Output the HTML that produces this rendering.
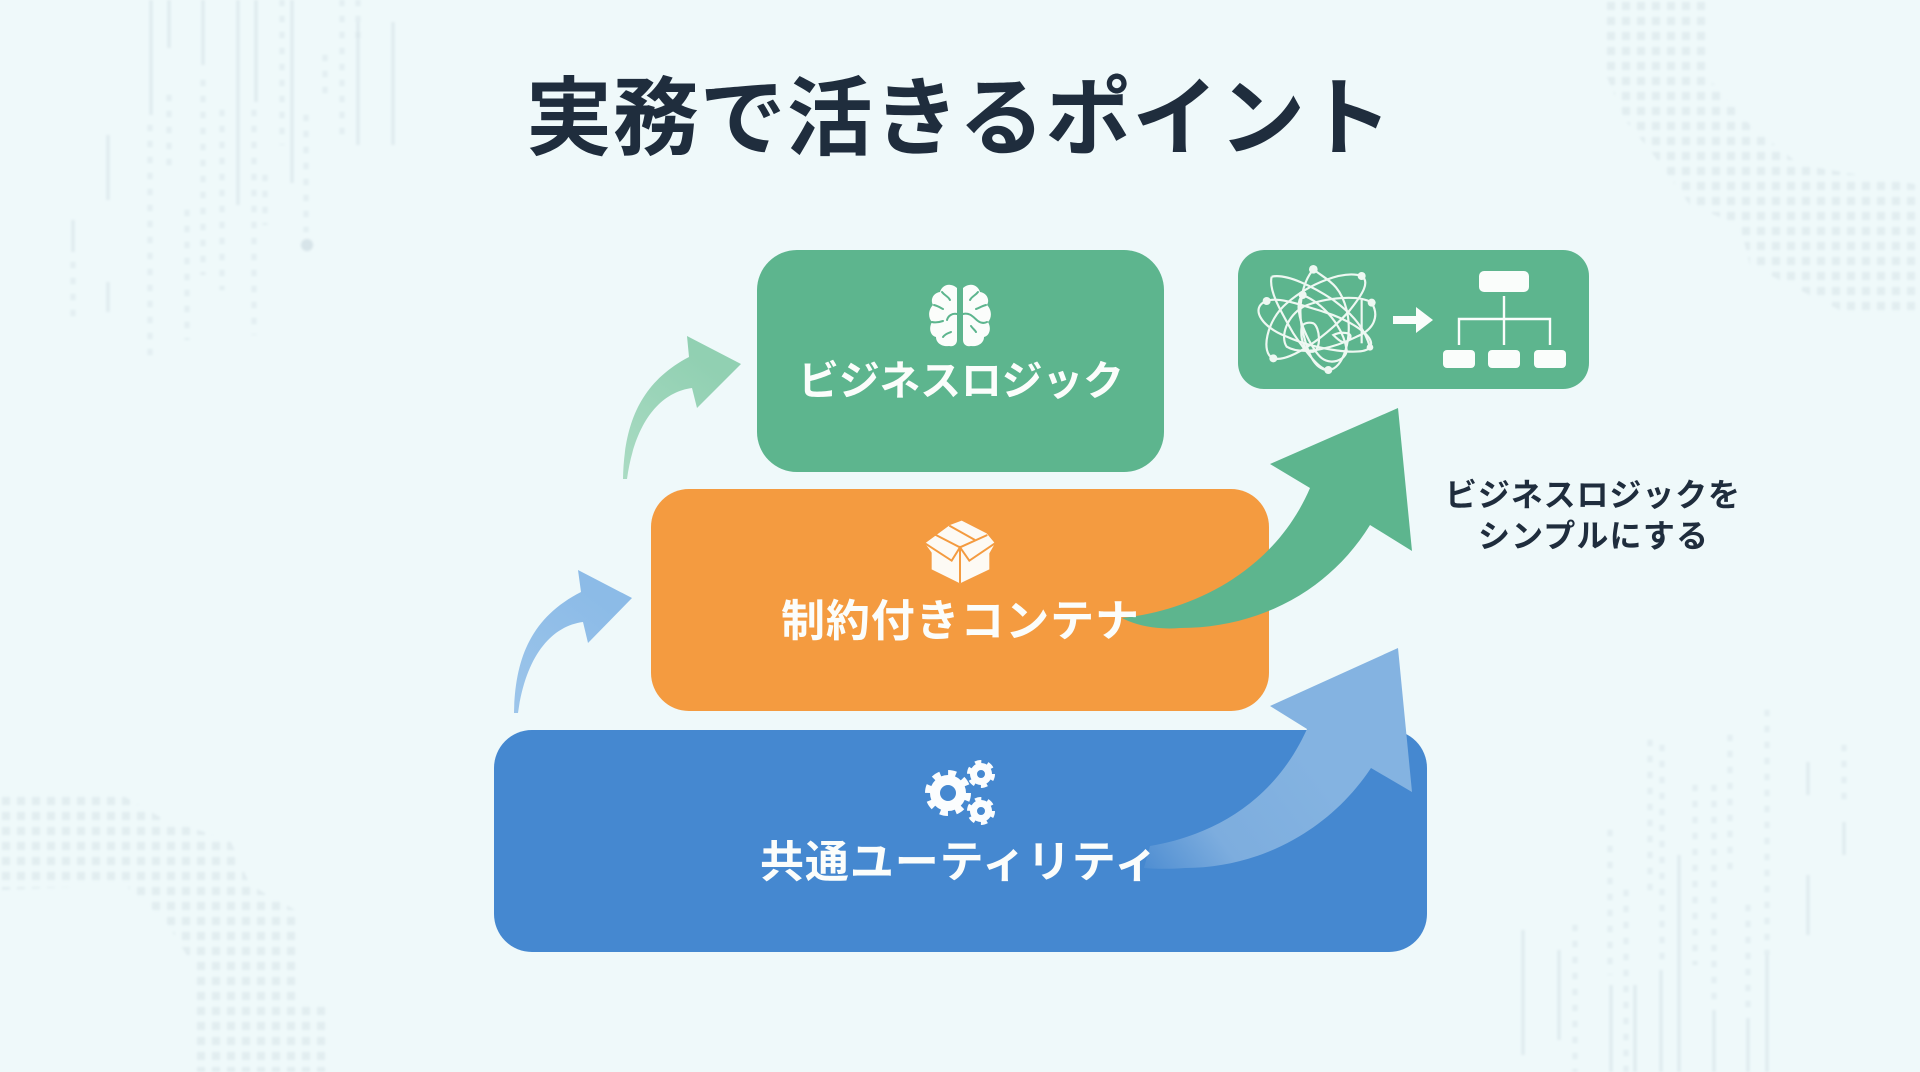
<!DOCTYPE html>
<html lang="ja">
<head>
<meta charset="utf-8">
<title>実務で活きるポイント</title>
<style>
html,body{margin:0;padding:0;width:1920px;height:1072px;overflow:hidden;background:#eff9fa}
svg{display:block}
text{font-family:"Liberation Sans","Noto Sans CJK JP",sans-serif}
</style>
</head>
<body>
<svg xmlns="http://www.w3.org/2000/svg" width="1920" height="1072" viewBox="0 0 1920 1072">
<defs>
<filter id="blur" x="-5%" y="-5%" width="110%" height="110%"><feGaussianBlur stdDeviation="1.2"/></filter>
<pattern id="dots" width="15" height="15" patternUnits="userSpaceOnUse"><rect x="2" y="2" width="8" height="8" fill="#9db2bd"/></pattern>
<clipPath id="cBL"><polygon points="0,797 125,797 165,820 230,840 250,885 295,910 295,1000 325,1000 325,1072 190,1072 190,960 165,920 125,885 0,890"/></clipPath>
<clipPath id="cTR"><polygon points="1600,0 1710,0 1710,80 1750,125 1800,165 1920,185 1920,310 1840,310 1750,265 1740,225 1690,205 1650,150 1625,120 1600,60"/></clipPath>
<linearGradient id="gBlueBig" gradientUnits="userSpaceOnUse" x1="1144" y1="868" x2="1300" y2="750">
<stop offset="0" stop-color="#4f8ed2"/><stop offset=".4" stop-color="#7dadde"/><stop offset="1" stop-color="#84b3e1"/>
</linearGradient>
<linearGradient id="gBlueSm" gradientUnits="userSpaceOnUse" x1="516" y1="713" x2="600" y2="600">
<stop offset="0" stop-color="#9cc5ea"/><stop offset="1" stop-color="#8cbbe7"/>
</linearGradient>
<linearGradient id="gGreenSm" gradientUnits="userSpaceOnUse" x1="625" y1="479" x2="709" y2="366">
<stop offset="0" stop-color="#aadbc3"/><stop offset="1" stop-color="#91d0b2"/>
</linearGradient>
</defs>

<rect width="1920" height="1072" fill="#eff9fa"/>

<!-- background texture -->
<g filter="url(#blur)" opacity=".4">
<rect width="1920" height="1072" fill="url(#dots)" clip-path="url(#cBL)" opacity=".4"/>
<rect width="1920" height="1072" fill="url(#dots)" clip-path="url(#cTR)" opacity=".4"/>
<g stroke="#b9c9d2" stroke-width="3" fill="none" opacity=".75">
<path d="M151 0V115M169 0V48M203 0V65M238 0V205M256 0V102M292 0V183M358 22V145M393 22V145M108 135V200M73 220V252M108 282V312"/>
<path d="M1523 930V1055M1559 950V1040M1611 985V1072M1635 985V1072M1661 970V1072M1679 855V1072M1714 1010V1072M1748 1018V1072M1767 955V1072M1808 762V795M1808 875V935M1844 822V855"/>
</g>
<g stroke="#b4c5cf" stroke-width="5" fill="none" stroke-dasharray="6 10" opacity=".5">
<path d="M150 125V362M169 95V168M203 80V275M222 110V290M254 110V335M187 210V340M282 0V145M306 115V232M342 0V140M358 0V45M73 262V320M265 175V225M325 55V100"/>
<path d="M1575 925V1072M1610 830V975M1626 890V1072M1650 740V900M1662 745V960M1695 785V965M1714 785V1000M1730 735V870M1748 905V1010M1767 710V955M1844 745V800"/>
</g>
<circle cx="307" cy="245" r="6" fill="#b4c5cf"/>
</g>

<!-- title -->
<text x="526" y="148" font-size="86" font-weight="700" fill="#1f2d3d" textLength="866" lengthAdjust="spacing">実務で活きるポイント</text>

<!-- main boxes -->
<rect x="757" y="250" width="407" height="222" rx="40" fill="#5db58e"/>
<rect x="651" y="489" width="618" height="222" rx="38" fill="#f49b40"/>
<rect x="494" y="730" width="933" height="222" rx="38" fill="#4588d0"/>
<rect x="1238" y="250" width="351" height="139" rx="26" fill="#5db58e"/>

<!-- small arrows -->
<path d="M514 713C515 660 530 618 581 592L578 570L632 598L588 643L583 622C552 626 526 655 518 713Z" fill="url(#gBlueSm)"/>
<path d="M623 479C624 426 639 383 689 357L687 336L741 364L697 408L692 388C661 392 635 421 627 479Z" fill="url(#gGreenSm)"/>

<!-- big arrows -->
<path d="M1122 618C1195 610 1275 570 1310 488L1270 464L1398 408L1412 551L1370 525C1330 590 1260 628 1180 628C1155 630 1135 625 1122 618Z" fill="#5db58e"/>
<path d="M1150 846C1215 835 1275 800 1307 729L1270 706L1398 648L1412 792L1371 768C1330 830 1260 868 1185 868C1170 869 1158 869 1144 868Z" fill="url(#gBlueBig)"/>

<!-- brain icon -->
<g>
<path d="M957 288C950 282 942 285 940 292C933 293 930 300 933 305C928 310 928 318 932 322C928 329 931 336 936 337C936 343 942 347 949 346C954 347 957 344 957 340Z" fill="#fbfdfb"/>
<path d="M963 288C970 282 978 285 980 292C987 293 990 300 987 305C992 310 992 318 988 322C992 329 989 336 984 337C984 343 978 347 971 346C966 347 963 344 963 340Z" fill="#fbfdfb"/>
<g fill="none" stroke="#5db58e" stroke-width="2" stroke-linecap="round">
<path d="M942 292C945 296 948 296 950 300"/><path d="M934 305C938 306 941 308 943 309"/><path d="M932 322C936 323 940 322 943 321"/><path d="M943 337C946 333 949 333 951 332"/><path d="M957 314C952 313 948 316 947 320"/>
<path d="M978 292C975 296 972 296 970 300"/><path d="M986 305C982 306 979 308 976 309"/><path d="M963 314C970 312 974 318 978 321C982 324 985 323 987 322"/><path d="M971 326C973 329 975 330 976 332"/>
</g>
</g>

<!-- box icon -->
<g transform="translate(910 510) scale(.3333)">
<polygon points="45,100 120,45 155,32 230,70 255,100 238,130 238,178 150,220 65,178 65,128" fill="#fdfaf4"/>
<g fill="none" stroke="#f49b40" stroke-width="6">
<path d="M45 100L125 152L150 112L178 152L255 100"/>
<path d="M72 72L150 112L232 75"/>
<path d="M118 47L195 90"/>
<path d="M150 112V220"/>
</g>
</g>

<!-- gears icon -->
<g fill="none" stroke="#fbfdfe">
<circle cx="948" cy="793" r="13" stroke-width="10"/>
<circle cx="948" cy="793" r="20" stroke-width="6" stroke-dasharray="7.85 7.85"/>
<circle cx="981" cy="774" r="7.5" stroke-width="7"/>
<circle cx="981" cy="774" r="11.5" stroke-width="5" stroke-dasharray="6 6.04"/>
<circle cx="981" cy="811" r="7.5" stroke-width="7"/>
<circle cx="981" cy="811" r="11.5" stroke-width="5" stroke-dasharray="6 6.04"/>
</g>

<!-- tangled network -->
<g transform="translate(1230 240) scale(.3333)">
<g fill="none" stroke="#eef8f2" stroke-width="6.5">
<path d="M110 183C60 200 90 260 170 290C260 330 400 350 420 322C440 290 360 240 280 215C200 190 140 170 110 183Z"/>
<path d="M395 108C340 90 240 130 170 190C110 240 90 340 130 355C180 370 300 280 360 210C400 160 420 125 395 108Z"/>
<path d="M250 88C290 120 330 130 350 210C370 290 340 390 295 390C250 390 230 330 215 260C205 200 215 130 250 88Z"/>
<path d="M125 110C115 150 150 210 190 280C230 340 270 390 295 390"/>
<path d="M125 110C170 100 250 140 310 180C350 210 400 250 420 322"/>
<path d="M425 188C450 230 430 270 380 290C320 320 220 350 170 320C150 290 170 230 220 200C290 170 390 165 425 188Z"/>
<path d="M218 165C180 200 240 320 270 350C300 380 350 360 350 330C340 260 280 190 218 165Z"/>
<path d="M215 260C210 300 225 340 250 335C275 330 270 260 250 250C235 245 220 250 215 260Z"/>
<path d="M310 285C330 275 370 275 360 295C345 320 325 300 310 285Z"/>
<path d="M395 180V310"/>
</g>
<g fill="#eef8f2">
<circle cx="250" cy="88" r="13"/><circle cx="395" cy="108" r="12"/><circle cx="218" cy="165" r="12"/><circle cx="110" cy="183" r="12"/><circle cx="425" cy="188" r="12"/><circle cx="420" cy="322" r="10"/><circle cx="130" cy="355" r="12"/><circle cx="295" cy="390" r="12"/>
</g>
</g>

<!-- small arrow and hierarchy -->
<path d="M1393 316H1416V307L1433 320L1416 333V324H1393Z" fill="#fafdfb"/>
<rect x="1479" y="271" width="50" height="21" rx="5" fill="#fafdfb"/>
<rect x="1443" y="350" width="32" height="18" rx="4" fill="#fafdfb"/>
<rect x="1488" y="350" width="32" height="18" rx="4" fill="#fafdfb"/>
<rect x="1534" y="350" width="32" height="18" rx="4" fill="#fafdfb"/>
<path d="M1504 296V345M1459 345V319H1550V345" fill="none" stroke="#fafdfb" stroke-width="2.4"/>

<!-- labels -->
<g fill="#fbfdfb" font-weight="700">
<text x="798" y="395" font-size="41" textLength="326" lengthAdjust="spacing">ビジネスロジック</text>
<text x="781" y="636" font-size="44" textLength="358" lengthAdjust="spacing">制約付きコンテナ</text>
<text x="760" y="877" font-size="44" textLength="398" lengthAdjust="spacing">共通ユーティリティ</text>
</g>
<g fill="#1f2d3d" font-weight="700" font-size="32">
<text x="1445" y="506" textLength="295" lengthAdjust="spacing">ビジネスロジックを</text>
<text x="1478" y="547" textLength="230" lengthAdjust="spacing">シンプルにする</text>
</g>
</svg>
</body>
</html>
